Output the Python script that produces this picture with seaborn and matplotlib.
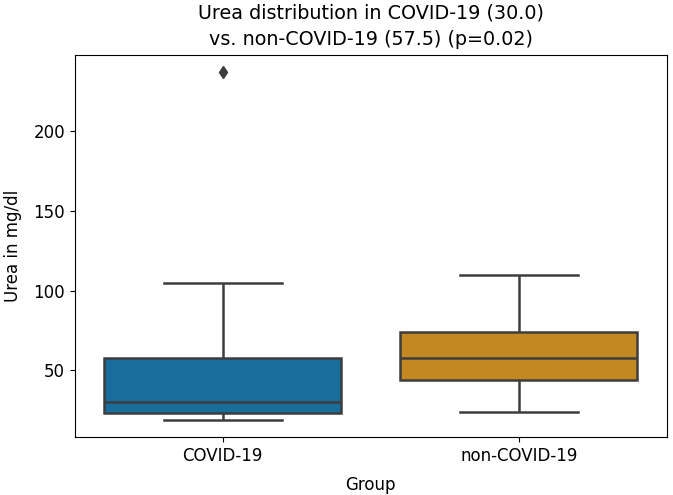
import pandas as pd
import seaborn as sns
import matplotlib.pyplot as plt

# values (mg/dl)
covid_urea = [19, 21, 23.5, 27, 30, 45, 58, 105, 237]
non_covid_urea = [24, 35, 44, 50, 57.5, 65, 74, 90, 110]
groups = ["COVID-19", "non-COVID-19"]

df = pd.DataFrame({
    "Group": [groups[0]] * len(covid_urea) + [groups[1]] * len(non_covid_urea),
    "Urea": covid_urea + non_covid_urea,
})

fig = plt.figure(figsize=(6.73, 4.95), dpi=100)
ax = fig.add_subplot(111)
fig.subplots_adjust(left=0.111, right=0.991, top=0.889, bottom=0.117)

line = "#3d3d3d"
sns.boxplot(x="Group", y="Urea", data=df, order=groups, hue="Group",
            palette="colorblind", saturation=0.75, width=0.8, ax=ax,
            linecolor=line, linewidth=1.8, legend=False,
            flierprops=dict(marker="d", markerfacecolor=line,
                            markeredgecolor=line, markersize=6))

ax.set_title("Urea distribution in COVID-19 (30.0)\nvs. non-COVID-19 (57.5) (p=0.02)",
             fontsize=13.8, linespacing=1.5, pad=7)
ax.set_xlabel("Group", fontsize=12, labelpad=8)
ax.set_ylabel("Urea in mg/dl", fontsize=12, labelpad=8)
ax.tick_params(labelsize=12)
ax.set_yticks([50, 100, 150, 200])

plt.savefig("out.png", dpi=100)
